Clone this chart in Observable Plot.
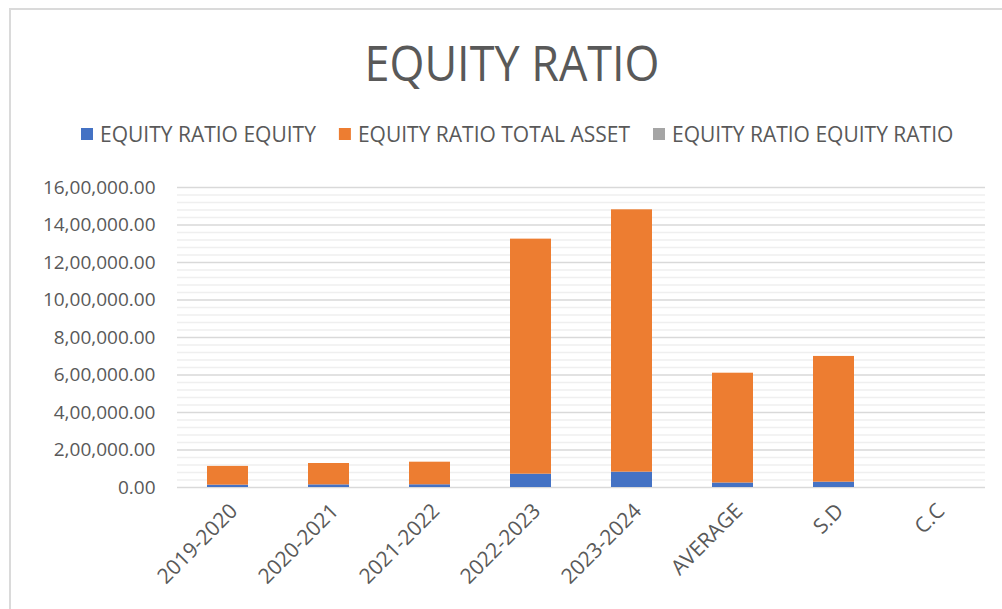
<!DOCTYPE html>
<html><head><meta charset="utf-8">
<script src="https://cdn.jsdelivr.net/npm/d3@7"></script>
<script src="https://cdn.jsdelivr.net/npm/@observablehq/plot@0.6"></script>
<style>
body{margin:0;background:#fff;width:1002px;height:609px;overflow:hidden;position:relative;font-family:"Open Sans",sans-serif}
#frame{position:absolute;left:9px;top:8px;width:1010px;height:620px;border:2px solid #dadada;box-sizing:border-box}
#head{position:absolute;left:0;top:0}
#chart{position:absolute;left:0;top:167px}
</style></head><body>
<div id="frame"></div>
<svg id="head" width="1002" height="160"></svg>
<div id="chart"></div>
<script>
const title = "EQUITY RATIO";
const categories = ["2019-2020","2020-2021","2021-2022","2022-2023","2023-2024","AVERAGE","S.D","C.C"];
const equity      = [12500, 14000, 14500, 71000, 82000, 24000, 28500, 0.95];
const totalAsset  = [100000, 114000, 120500, 1253600, 1399000, 585600, 670500, 0.97];
const equityRatio = [0.12, 0.11, 0.11, 0.06, 0.06, 0.09, 0.03, 0.9];
const seriesNames = ["EQUITY RATIO EQUITY","EQUITY RATIO TOTAL ASSET","EQUITY RATIO EQUITY RATIO"];
const seriesColors = ["#4472C4","#ED7D31","#A5A5A5"];
const yTicks = d3.range(0, 1600001, 200000);
const yMinor = d3.range(0, 1600001, 40000).filter(v => v % 200000 !== 0);

const seriesValues = [equity, totalAsset, equityRatio];
const rows = categories.flatMap((c, i) => seriesNames.map((s, k) => ({cat: c, series: s, value: seriesValues[k][i]})));

const indian = d3.formatLocale({decimal: ".", thousands: ",", grouping: [3, 2], currency: ["", ""]});
const fmt = indian.format(",.2f");

// header: title + legend
const head = d3.select("#head");
head.append("text").attr("x", 512).attr("y", 81).attr("text-anchor", "middle")
  .attr("font-size", 50).attr("fill", "#595959").attr("font-family", "Open Sans")
  .attr("textLength", 295).attr("lengthAdjust", "spacingAndGlyphs").text(title);
let lx = 81;
seriesNames.forEach((s, k) => {
  head.append("rect").attr("x", lx).attr("y", 128).attr("width", 12).attr("height", 12).attr("fill", seriesColors[k]);
  const t = head.append("text").attr("x", lx + 19).attr("y", 142).attr("font-size", 21)
    .attr("fill", "#595959").attr("font-family", "Open Sans").text(s);
  lx = lx + 19 + t.node().getComputedTextLength() + 23;
});

const chart = Plot.plot({
  width: 1002, height: 439,
  marginTop: 20, marginBottom: 119, marginLeft: 177, marginRight: 17,
  style: {fontFamily: "Open Sans", fontSize: "19px", color: "#595959", background: "transparent", overflow: "visible"},
  x: {domain: categories, paddingInner: 0.59, paddingOuter: 0.295, label: null},
  y: {domain: [0, 1600000], label: null},
  color: {domain: seriesNames, range: seriesColors},
  marks: [
    Plot.ruleY(yMinor, {stroke: "#efefef", strokeWidth: 1.3}),
    Plot.ruleY(yTicks, {stroke: "#d9d9d9", strokeWidth: 1.3}),
    Plot.barY(rows, Plot.stackY({x: "cat", y: "value", fill: "series"})),
    Plot.axisY({ticks: yTicks, tickSize: 0, tickPadding: 22, tickFormat: fmt, label: null}),
    Plot.axisX({tickSize: 0, tickRotate: -45, tickPadding: 20, fontSize: 21, dx: 6, label: null})
  ]
});
document.getElementById("chart").appendChild(chart);
</script>
</body></html>
